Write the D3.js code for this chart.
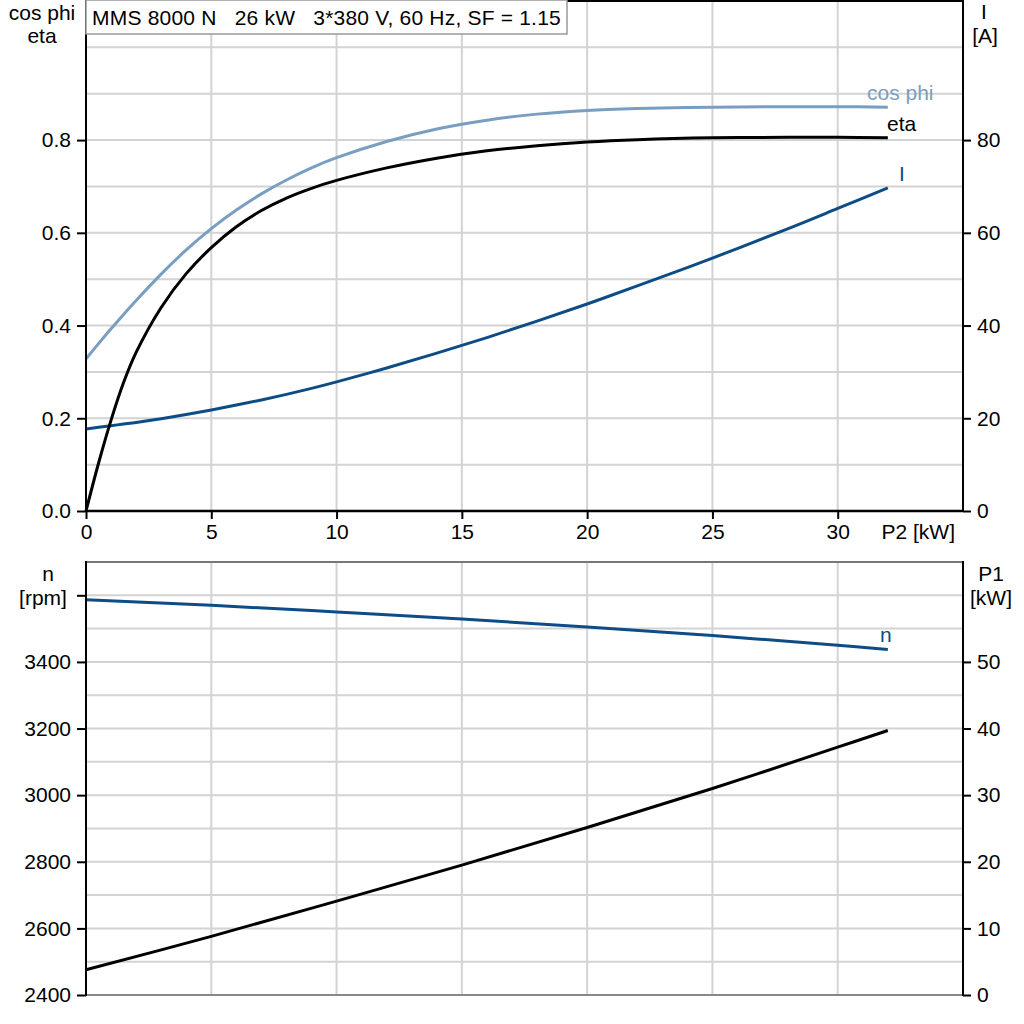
<!DOCTYPE html>
<html>
<head>
<meta charset="utf-8">
<title>MMS 8000 N curves</title>
<script src="https://d3js.org/d3.v7.min.js"></script>
<style>
  body { margin: 0; background: #fff; }
  text { font-family: "Liberation Sans", Arial, sans-serif; font-size: 21px; }
</style>
</head>
<body>
<script>
// ---- data ----
var title = "MMS 8000 N   26 kW   3*380 V, 60 Hz, SF = 1.15";

var p2Top   = [0, 0.5, 1, 1.5, 2, 3, 4, 5, 6, 7, 8, 9, 10, 12, 14, 16, 18, 20, 22, 25, 28, 30, 32];
var cosPhi  = [0.328, 0.361, 0.393, 0.424, 0.454, 0.511, 0.563, 0.609, 0.649, 0.684, 0.714, 0.740, 0.762,
               0.797, 0.824, 0.843, 0.856, 0.864, 0.868, 0.871, 0.872, 0.872, 0.871];
var eta     = [0, 0.103, 0.196, 0.277, 0.342, 0.439, 0.512, 0.568, 0.613, 0.648, 0.675, 0.696, 0.713,
               0.740, 0.761, 0.777, 0.788, 0.796, 0.801, 0.805, 0.806, 0.806, 0.805];
var current = [17.7, 18.05, 18.4, 18.75, 19.1, 19.9, 20.8, 21.8, 22.85, 23.95, 25.15, 26.45, 27.85,
               30.85, 34.05, 37.4, 40.95, 44.65, 48.55, 54.55, 60.85, 65.25, 69.7];

var p2Bottom = [0, 5, 10, 15, 20, 25, 30, 32];
var speed    = [3587, 3570, 3550, 3529, 3505, 3479, 3450, 3437];
var p1       = [3.8, 8.8, 14.1, 19.5, 25.15, 31.0, 37.2, 39.7];

var xTicks   = [0, 5, 10, 15, 20, 25, 30];
var effTicks = [0, 0.2, 0.4, 0.6, 0.8];
var ampTicks = [0, 20, 40, 60, 80];
var rpmTicks = [2400, 2600, 2800, 3000, 3200, 3400];
var kwTicks  = [0, 10, 20, 30, 40, 50];

var cosColor = "#7a9ec0", blue = "#0d4c85", gridColor = "#d3d3d3";

var svg = d3.select("body").append("svg")
    .attr("width", 1024)
    .attr("height", 1024);

var left = 86, right = 963;
var x = d3.scaleLinear().domain([0, 35]).range([left, right]);

// top panel scales
var yEff = d3.scaleLinear().domain([0, 1.1]).range([511, 1]);
var yAmp = d3.scaleLinear().domain([0, 110]).range([511, 1]);
// bottom panel scales
var yRpm = d3.scaleLinear().domain([2400, 3700]).range([995, 562]);
var yKw  = d3.scaleLinear().domain([0, 65]).range([995, 562]);

function grid(g, yScale, yValues) {
    g.selectAll(".vg").data(d3.range(5, 35, 5)).enter().append("line")
        .attr("x1", function(d) { return x(d); }).attr("x2", function(d) { return x(d); })
        .attr("y1", yScale.range()[0]).attr("y2", yScale.range()[1])
        .attr("stroke", gridColor).attr("stroke-width", 2);
    g.selectAll(".hg").data(yValues).enter().append("line")
        .attr("x1", left).attr("x2", right)
        .attr("y1", function(d) { return yScale(d); }).attr("y2", function(d) { return yScale(d); })
        .attr("stroke", gridColor).attr("stroke-width", 2);
}

function styleAxis(g) {
    g.select(".domain").remove();
    g.selectAll(".tick line").attr("stroke", "#000").attr("stroke-width", 2);
    g.selectAll(".tick text").attr("fill", "#000").style("font-size", "21px")
        .style("font-family", "'Liberation Sans', Arial, sans-serif");
}

var topPanel = svg.append("g");
grid(topPanel, yEff, d3.range(1, 11).map(function(i) { return i / 10; }));

var bottomPanel = svg.append("g");
grid(bottomPanel, yRpm, d3.range(2500, 3700, 100));

// ---- curves ----
function drawLine(g, xs, ys, yScale, color) {
    var pts = xs.map(function(d, i) { return [d, ys[i]]; });
    g.append("path")
        .datum(pts)
        .attr("fill", "none")
        .attr("stroke", color)
        .attr("stroke-width", 3)
        .attr("d", d3.line()
            .x(function(d) { return x(d[0]); })
            .y(function(d) { return yScale(d[1]); })
            .curve(d3.curveCatmullRom.alpha(0.5)));
}

drawLine(topPanel, p2Top, cosPhi, yEff, cosColor);
drawLine(topPanel, p2Top, current, yAmp, blue);
drawLine(topPanel, p2Top, eta, yEff, "#000");

drawLine(bottomPanel, p2Bottom, speed, yRpm, blue);
drawLine(bottomPanel, p2Bottom, p1, yKw, "#000");

// ---- frames ----
svg.append("line").attr("x1", left).attr("x2", right).attr("y1", 1).attr("y2", 1)
    .attr("stroke", "#000").attr("stroke-width", 2);
svg.append("line").attr("x1", left).attr("x2", right).attr("y1", 511).attr("y2", 511)
    .attr("stroke", "#000").attr("stroke-width", 2.5);
svg.append("line").attr("x1", left).attr("x2", left).attr("y1", 0).attr("y2", 512)
    .attr("stroke", "#000").attr("stroke-width", 2);
svg.append("line").attr("x1", right).attr("x2", right).attr("y1", 0).attr("y2", 512)
    .attr("stroke", "#000").attr("stroke-width", 2);

svg.append("line").attr("x1", left).attr("x2", right).attr("y1", 562).attr("y2", 562)
    .attr("stroke", "#777").attr("stroke-width", 2);
svg.append("line").attr("x1", left).attr("x2", right).attr("y1", 995).attr("y2", 995)
    .attr("stroke", "#888").attr("stroke-width", 2);
svg.append("line").attr("x1", left).attr("x2", left).attr("y1", 561).attr("y2", 996)
    .attr("stroke", "#000").attr("stroke-width", 2);
svg.append("line").attr("x1", right).attr("x2", right).attr("y1", 561).attr("y2", 996)
    .attr("stroke", "#000").attr("stroke-width", 2);

// ---- axes ----
svg.append("g").attr("transform", "translate(0,511)")
    .call(d3.axisBottom(x).tickValues(xTicks).tickSize(8).tickPadding(5))
    .call(styleAxis);
svg.append("g").attr("transform", "translate(" + left + ",0)")
    .call(d3.axisLeft(yEff).tickValues(effTicks).tickFormat(d3.format(".1f")).tickSize(9).tickPadding(6))
    .call(styleAxis);
svg.append("g").attr("transform", "translate(" + right + ",0)")
    .call(d3.axisRight(yAmp).tickValues(ampTicks).tickSize(8).tickPadding(6))
    .call(styleAxis);
svg.append("g").attr("transform", "translate(" + left + ",0)")
    .call(d3.axisLeft(yRpm).tickValues(rpmTicks).tickFormat(d3.format("d")).tickSize(9).tickPadding(6))
    .call(styleAxis);
svg.append("g").attr("transform", "translate(" + left + ",0)")
    .call(d3.axisLeft(yRpm).tickValues([3600]).tickFormat("").tickSize(9))
    .call(styleAxis);
svg.append("g").attr("transform", "translate(" + right + ",0)")
    .call(d3.axisRight(yKw).tickValues(kwTicks).tickSize(8).tickPadding(6))
    .call(styleAxis);

// ---- labels ----
function label(txt, px, py, anchor, color) {
    svg.append("text").attr("x", px).attr("y", py)
        .attr("text-anchor", anchor || "start")
        .attr("fill", color || "#000")
        .text(txt);
}
label("cos phi", 42, 20, "middle");
label("eta", 42, 43, "middle");
label("I", 984, 19, "middle");
label("[A]", 985, 43, "middle");
label("P2 [kW]", 955, 539, "end");
label("n", 48, 581, "middle");
label("[rpm]", 43, 605, "middle");
label("P1", 991, 581, "middle");
label("[kW]", 991, 605, "middle");

label("cos phi", 867, 100, "start", cosColor);
label("eta", 887, 131, "start", "#000");
label("I", 899, 181, "start", blue);
label("n", 880, 642, "start", blue);

// ---- title box ----
svg.append("rect").attr("x", 86).attr("y", 0).attr("width", 481).attr("height", 34)
    .attr("fill", "#fff").attr("stroke", "#999").attr("stroke-width", 1.5);
svg.append("text").attr("x", 92).attr("y", 25)
    .attr("fill", "#000")
    .style("white-space", "pre")
    .style("letter-spacing", "0.2px")
    .attr("xml:space", "preserve")
    .text(title);
</script>
</body>
</html>
